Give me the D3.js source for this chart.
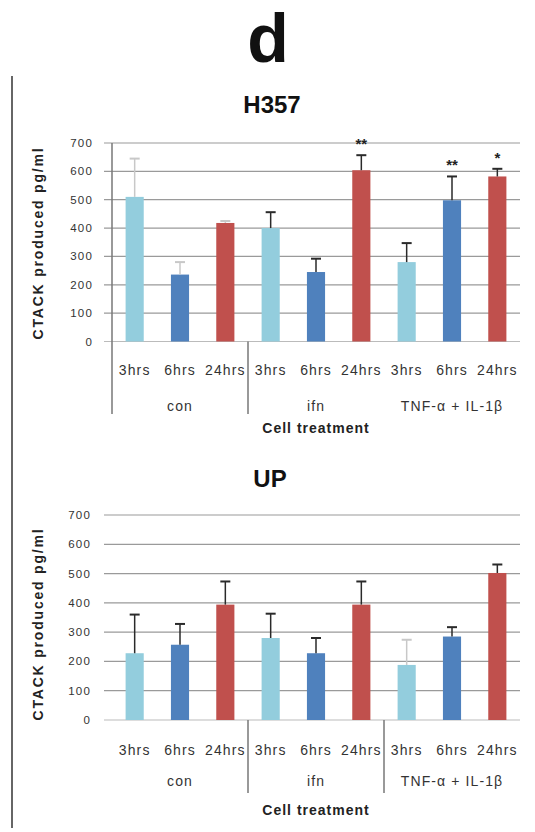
<!DOCTYPE html>
<html>
<head>
<meta charset="utf-8">
<script src="https://cdn.jsdelivr.net/npm/d3@7"></script>
<style>
  html, body { margin: 0; padding: 0; background: #fff; }
  svg { display: block; font-family: "Liberation Sans", Arial, sans-serif; }
</style>
</head>
<body>
<script>
// ---------- data ----------
const groups = ["con", "ifn", "TNF-α + IL-1β"];
const times = ["3hrs", "6hrs", "24hrs"];
const yTicks = [0, 100, 200, 300, 400, 500, 600, 700];

const h357Values = [510, 236, 418, 400, 245, 604, 280, 498, 582];
const h357Errors = [135, 44, 7, 56, 47, 53, 67, 84, 27];
const h357Marks  = ["", "", "", "", "", "**", "", "**", "*"];

const upValues = [228, 257, 394, 280, 228, 394, 188, 285, 502];
const upErrors = [132, 71, 79, 83, 52, 79, 86, 32, 29];
const upMarks  = ["", "", "", "", "", "", "", "", ""];

const barColors = ["#93cddd", "#4f81bd", "#c0504d"];

// ---------- page ----------
const W = 535, H = 832;
const svg = d3.select("body").append("svg").attr("width", W).attr("height", H);

svg.append("text").attr("x", 268).attr("y", 62).attr("text-anchor", "middle")
  .attr("font-size", 68).attr("font-weight", "bold").attr("fill", "#111").text("d");

svg.append("line").attr("x1", 12).attr("x2", 12).attr("y1", 76).attr("y2", 828)
  .attr("stroke", "#666").attr("stroke-width", 2);

function drawChart(cfg) {
  const cats = [];
  groups.forEach((g, gi) => times.forEach((t, ti) => cats.push({ g, gi, t, ti, key: gi + "-" + ti })));
  const x = d3.scaleBand().domain(cats.map(c => c.key)).range([112, 520]).paddingInner(0.6).paddingOuter(0.3);
  const xCat = d3.scaleBand().domain(cats.map(c => c.key)).range([112, 520]);
  const xGroup = d3.scaleBand().domain(groups).range([112, 520]);
  const y = d3.scaleLinear().domain([0, 700]).range([cfg.yBottom, cfg.yTop]);

  const g = svg.append("g");

  g.append("text").attr("x", cfg.titleX).attr("y", cfg.titleY).attr("text-anchor", "middle")
    .attr("font-size", 24).attr("font-weight", "bold").attr("fill", "#111").text(cfg.title);

  // gridlines
  g.selectAll(".grid").data(yTicks).join("line")
    .attr("x1", 104).attr("x2", 520)
    .attr("y1", d => y(d)).attr("y2", d => y(d))
    .attr("stroke", d => d === 0 ? "#bbb" : "#9a9a9a").attr("stroke-width", 1.2);

  // y tick labels
  g.selectAll(".yt").data(yTicks).join("text")
    .attr("x", cfg.tickX).attr("y", d => y(d) + 4).attr("text-anchor", "end")
    .attr("font-size", 11.5).attr("letter-spacing", 1.2).attr("fill", "#333").text(d => d);

  // y label
  g.append("text").attr("transform", `translate(43,${cfg.ylabelY}) rotate(-90)`)
    .attr("text-anchor", "middle").attr("font-size", 14).attr("font-weight", "bold")
    .attr("letter-spacing", 1.8).attr("fill", "#222").text("CTACK produced pg/ml");

  // axis / separators
  if (cfg.axisLine) {
    g.append("line").attr("x1", 112).attr("x2", 112).attr("y1", cfg.yTop).attr("y2", cfg.sepBottom)
      .attr("stroke", "#777").attr("stroke-width", 1.5);
  }
  cfg.separators.forEach(gi => {
    const sx = xGroup(groups[gi]);
    g.append("line").attr("x1", sx).attr("x2", sx).attr("y1", cfg.yBottom).attr("y2", cfg.sepBottom)
      .attr("stroke", "#777").attr("stroke-width", 1.5);
  });

  // bars
  g.selectAll(".bar").data(cats).join("rect")
    .attr("x", c => x(c.key)).attr("width", x.bandwidth())
    .attr("y", (c, i) => y(cfg.values[i]))
    .attr("height", (c, i) => y(0) - y(cfg.values[i]))
    .attr("fill", c => barColors[c.ti]);

  // error bars
  cats.forEach((c, i) => {
    const cx = x(c.key) + x.bandwidth() / 2;
    const top = y(cfg.values[i] + cfg.errors[i]);
    const col = cfg.faint.includes(i) ? "#c8c8c8" : "#2a2a2a";
    g.append("line").attr("x1", cx).attr("x2", cx).attr("y1", y(cfg.values[i])).attr("y2", top)
      .attr("stroke", col).attr("stroke-width", 1.5);
    g.append("line").attr("x1", cx - 5).attr("x2", cx + 5).attr("y1", top).attr("y2", top)
      .attr("stroke", col).attr("stroke-width", 2);
    if (cfg.marks[i]) {
      g.append("text").attr("x", cx).attr("y", top - 6).attr("text-anchor", "middle")
        .attr("font-size", 15).attr("font-weight", "bold").attr("fill", "#222").text(cfg.marks[i]);
    }
  });

  // hour labels
  g.selectAll(".hl").data(cats).join("text")
    .attr("x", c => xCat(c.key) + xCat.bandwidth() / 2).attr("y", cfg.hourY)
    .attr("text-anchor", "middle").attr("font-size", 14).attr("letter-spacing", 1.1)
    .attr("fill", "#333").text(c => c.t);

  // group labels
  g.selectAll(".gl").data(groups).join("text")
    .attr("x", d => xGroup(d) + xGroup.bandwidth() / 2).attr("y", cfg.groupY)
    .attr("text-anchor", "middle").attr("font-size", 14).attr("letter-spacing", 1.1)
    .attr("fill", "#333").text(d => d);

  g.append("text").attr("x", 316).attr("y", cfg.xlabelY).attr("text-anchor", "middle")
    .attr("font-size", 14).attr("font-weight", "bold").attr("letter-spacing", 1)
    .attr("fill", "#222").text("Cell treatment");
}

drawChart({
  title: "H357", titleX: 272, titleY: 113,
  values: h357Values, errors: h357Errors, marks: h357Marks, faint: [0, 1, 2],
  yTop: 143, yBottom: 341.5, tickX: 93, ylabelY: 243,
  axisLine: true, separators: [1], sepBottom: 414,
  hourY: 375, groupY: 411, xlabelY: 433
});

drawChart({
  title: "UP", titleX: 270, titleY: 487,
  values: upValues, errors: upErrors, marks: upMarks, faint: [6],
  yTop: 515, yBottom: 720, tickX: 91, ylabelY: 624,
  axisLine: false, separators: [1, 2], sepBottom: 793,
  hourY: 755, groupY: 786, xlabelY: 815
});
</script>
</body>
</html>
